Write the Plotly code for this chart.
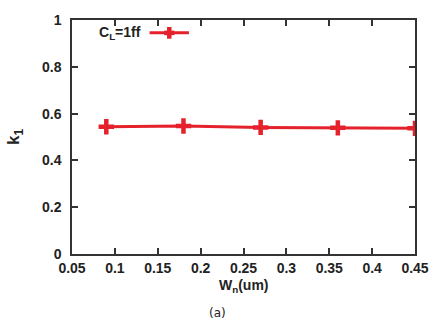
import plotly.graph_objects as go

# Transistor width sweep and fitted k1 coefficient
wn_um = [0.09, 0.18, 0.27, 0.36, 0.45]
k1 = [0.544, 0.547, 0.541, 0.539, 0.537]
series_name = "C<sub>L</sub>=1ff"

x_ticks = [0.05, 0.1, 0.15, 0.2, 0.25, 0.3, 0.35, 0.4, 0.45]
y_ticks = [0, 0.2, 0.4, 0.6, 0.8, 1]

RED = "#e5222b"
AXIS = "#333333"
TEXT = "#222222"
FONT = "Liberation Sans"

fig = go.Figure()
fig.add_trace(go.Scatter(
    x=wn_um, y=k1, mode="lines+markers", name=series_name,
    line=dict(color=RED, width=3),
    marker=dict(symbol="cross-thin", size=11, line=dict(color=RED, width=4.5)),
    showlegend=False,
))

axis_common = dict(
    showline=True, linecolor=AXIS, linewidth=1.5, mirror="ticks",
    ticks="inside", ticklen=6, tickwidth=1.5, tickcolor=AXIS,
    showgrid=False, zeroline=False,
    tickfont=dict(family=FONT, size=14, color=TEXT, weight="bold"),
)

fig.update_layout(
    width=441, height=326,
    margin=dict(l=72, r=20, t=17, b=72),
    paper_bgcolor="white", plot_bgcolor="white",
    xaxis=dict(range=[0.05, 0.45], tickvals=x_ticks,
               ticktext=[f"{v:g}" for v in x_ticks], ticklabelstandoff=0,
               **axis_common),
    yaxis=dict(range=[0, 1], tickvals=y_ticks,
               ticktext=[f"{v:g}" for v in y_ticks], ticklabelstandoff=6,
               **axis_common),
)

# Key: label followed by a line sample with a cross marker
kx0, kx1, ky = 0.1405, 0.1864, 0.945
kxc = (kx0 + kx1) / 2
fig.add_shape(type="line", xref="x", yref="y", x0=kx0, x1=kx1, y0=ky, y1=ky,
              line=dict(color=RED, width=3))
fig.add_shape(type="line", xref="x", yref="y", x0=kxc, x1=kxc,
              y0=ky - 0.025, y1=ky + 0.025, line=dict(color=RED, width=4.5))
fig.add_shape(type="line", xref="x", yref="y", x0=kxc - 0.006, x1=kxc + 0.006,
              y0=ky, y1=ky, line=dict(color=RED, width=4.5))
fig.add_annotation(x=0.1325, y=ky, xref="x", yref="y", xanchor="right",
                   yanchor="middle", text=series_name, showarrow=False,
                   font=dict(family=FONT, size=14, color=TEXT, weight="bold"))

# Axis titles and panel label
fig.add_annotation(x=-0.166, y=0.5, xref="paper", yref="paper", xanchor="center",
                   yanchor="middle", text="k<sub>1</sub>", showarrow=False,
                   textangle=-90,
                   font=dict(family=FONT, size=17, color=TEXT, weight="bold"))
fig.add_annotation(x=0.5, y=-0.09, xref="paper", yref="paper", xanchor="center",
                   yanchor="top", text="W<sub>n</sub>(um)", showarrow=False,
                   font=dict(family=FONT, size=14, color=TEXT, weight="bold"))
fig.add_annotation(x=0.425, y=-0.215, xref="paper", yref="paper", xanchor="center",
                   yanchor="top", text="(a)", showarrow=False,
                   font=dict(family="DejaVu Sans", size=12, color=TEXT))

fig.write_html("out.html")
